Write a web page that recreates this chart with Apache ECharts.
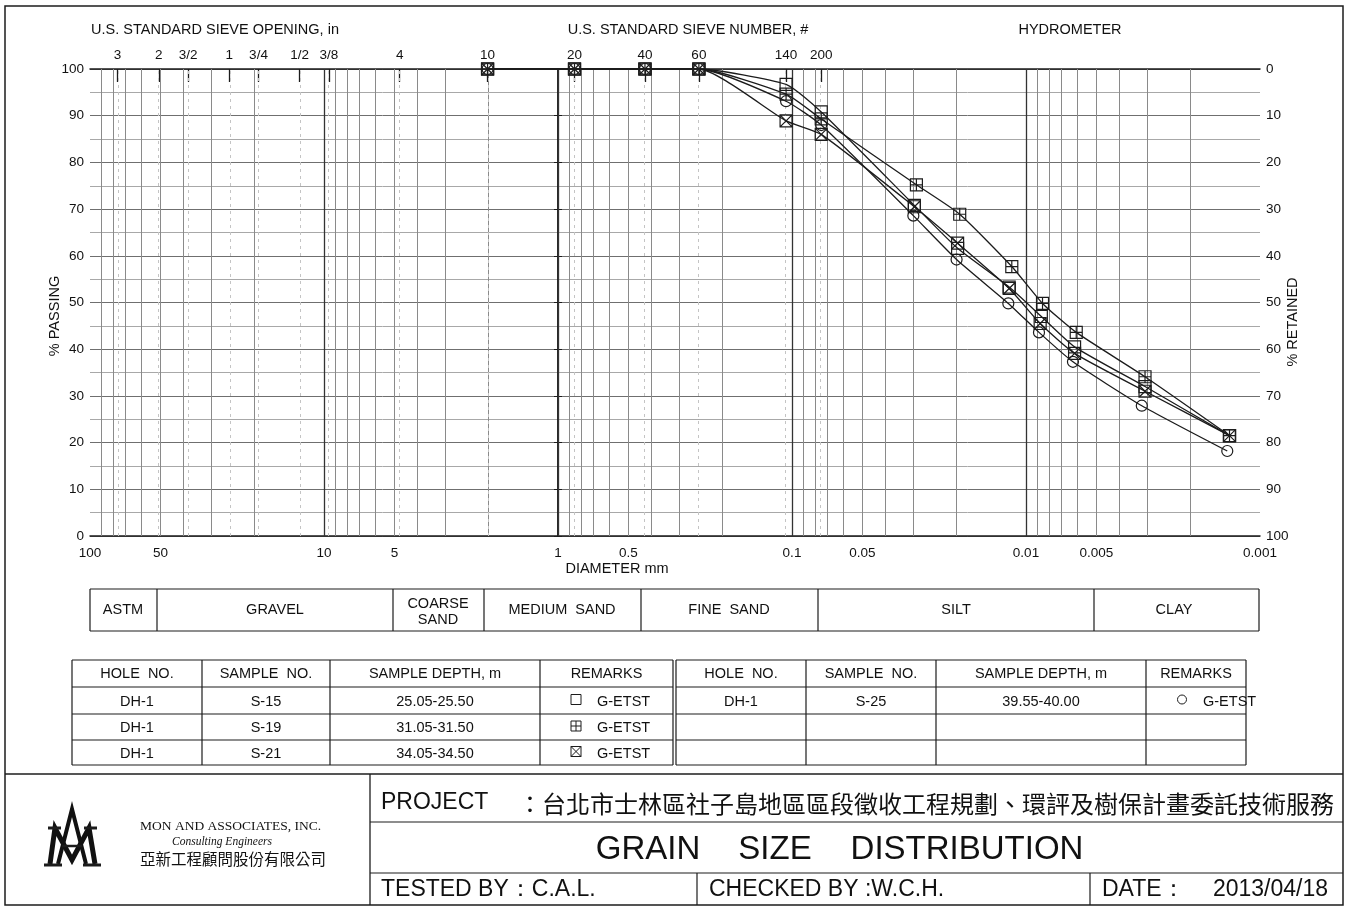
<!DOCTYPE html>
<html>
<head>
<meta charset="utf-8">
<script src="https://cdn.jsdelivr.net/npm/echarts@6/dist/echarts.min.js"></script>
<style>
html, body { margin: 0; padding: 0; background: #fff; }
#chart { width: 1345px; height: 906px; }
</style>
</head>
<body>
<div id="chart"></div>
<script>
// sieve sizes (mm): #10, #20, #40, #60, #140, #200
var sieveDiam = [2.0, 0.85, 0.425, 0.25, 0.106, 0.075];

// hydrometer diameters (mm) per sample
var hydroDiamS15 = [0.0300, 0.0196, 0.0118, 0.0086, 0.0062, 0.0031, 0.00135];
var hydroDiamS19 = [0.0294, 0.0192, 0.0115, 0.0085, 0.0061, 0.0031, 0.00135];
var hydroDiamS21 = [0.0300, 0.0196, 0.0118, 0.0087, 0.0062, 0.0031, 0.00135];
var hydroDiamS25 = [0.0303, 0.0198, 0.0119, 0.0088, 0.0063, 0.0032, 0.00138];

// % passing (sieves first, then hydrometer)
var passS15 = [100, 100, 100, 100, 96.7, 90.8, 70.8, 61.6, 53.3, 47.0, 40.5, 32.0, 21.5];
var passS19 = [100, 100, 100, 100, 94.6, 89.3, 75.2, 68.9, 57.7, 49.8, 43.6, 34.1, 21.5];
var passS21 = [100, 100, 100, 100, 88.9, 86.0, 70.5, 62.7, 53.0, 45.5, 39.1, 31.0, 21.5];
var passS25 = [100, 100, 100, 100, 93.1, 88.0, 68.6, 59.2, 49.8, 43.6, 37.3, 27.9, 18.2];

// axis labels
var diamLabels = ['100', '50', '10', '5', '1', '0.5', '0.1', '0.05', '0.01', '0.005', '0.001'];
var sieveLabels = ['3', '2', '3/2', '1', '3/4', '1/2', '3/8', '4', '10', '20', '40', '60', '140', '200'];
var sieveOpenMm = [76.2, 50.8, 38.1, 25.4, 19.05, 12.7, 9.525, 4.75, 2.0, 0.85, 0.425, 0.25, 0.106, 0.075];

var FONT = "'Liberation Sans', Arial, sans-serif";
var CJK = "'Noto Sans CJK TC', 'Noto Sans CJK SC', sans-serif";
var SERIF = "'Liberation Serif', 'DejaVu Serif', serif";
var INK = '#1c1c1c';
var TF = '14.5px ' + FONT;

var diamVals = diamLabels.map(function (s) { return Math.log10(parseFloat(s)); });
var sieveVals = sieveOpenMm.map(function (d) { return Math.log10(d); });

function lookup(vals, labels) {
  return function (v) {
    for (var i = 0; i < vals.length; i++) {
      if (Math.abs(vals[i] - v) < 1e-6) return labels[i];
    }
    return '';
  };
}

function curve(name, hydro, pass, symbol, size) {
  var diam = sieveDiam.concat(hydro);
  return {
    name: name,
    type: 'line',
    data: diam.map(function (d, i) { return [Math.log10(d), pass[i]]; }),
    smooth: 0.18,
    symbol: symbol,
    symbolSize: size,
    showAllSymbol: true,
    lineStyle: { color: INK, width: 1.3 },
    itemStyle: { color: 'rgba(255,255,255,0)', borderColor: INK, borderWidth: 1.2 },
    z: 5,
    animation: false
  };
}

// vertical log grid lines
var vgrid = [];
[-3, -2, -1, 0, 1].forEach(function (n) {
  for (var k = 1; k <= 9; k++) {
    var v = Math.log10(k) + n;
    if (v <= -3 || v >= 2) continue;
    vgrid.push({ xAxis: v, lineStyle: { color: k === 1 ? '#333' : '#8a8a8a', width: k === 1 ? 1.3 : 1, type: 'solid' } });
  }
});
sieveVals.forEach(function (v) {
  vgrid.push({ xAxis: v, lineStyle: { color: '#c4c4c4', width: 1, type: [3, 4] } });
});

// ---------- graphic helpers ----------
var G = [];
function ln(x1, y1, x2, y2, w) {
  G.push({ type: 'line', silent: true, shape: { x1: x1, y1: y1, x2: x2, y2: y2 },
    style: { stroke: INK, lineWidth: w || 1.2 } });
}
function tx(x, y, s, font, align, rot) {
  G.push({ type: 'text', silent: true, x: x, y: y, rotation: rot || 0,
    style: { text: s, font: font || TF, fill: '#111', textAlign: align || 'center', textVerticalAlign: 'middle' } });
}
function markSquare(cx, cy, kind) {
  G.push({ type: 'rect', silent: true, shape: { x: cx - 5, y: cy - 5, width: 10, height: 10 },
    style: { fill: 'none', stroke: INK, lineWidth: 1 } });
  if (kind === 'plus') { ln(cx, cy - 5, cx, cy + 5, 1); ln(cx - 5, cy, cx + 5, cy, 1); }
  if (kind === 'x') { ln(cx - 5, cy - 5, cx + 5, cy + 5, 1); ln(cx + 5, cy - 5, cx - 5, cy + 5, 1); }
}

// outer frame
G.push({ type: 'rect', silent: true, shape: { x: 5, y: 6, width: 1338, height: 899 },
  style: { fill: 'none', stroke: INK, lineWidth: 1.5 } });

// headings and axis titles
tx(215, 30, 'U.S. STANDARD SIEVE OPENING, in');
tx(688, 30, 'U.S. STANDARD SIEVE NUMBER, #');
tx(1070, 30, 'HYDROMETER');
tx(617, 569, 'DIAMETER mm');
tx(55, 316, '% PASSING', null, 'center', Math.PI / 2);
tx(1293, 322, '% RETAINED', null, 'center', Math.PI / 2);

// soil classification strip
var clsX = [90, 157, 393, 484, 641, 818, 1094, 1259];
ln(90, 589, 1259, 589); ln(90, 631, 1259, 631);
clsX.forEach(function (x) { ln(x, 589, x, 631); });
tx(123, 610, 'ASTM');
tx(275, 610, 'GRAVEL');
tx(438, 604, 'COARSE');
tx(438, 620, 'SAND');
tx(562, 610, 'MEDIUM  SAND');
tx(729, 610, 'FINE  SAND');
tx(956, 610, 'SILT');
tx(1174, 610, 'CLAY');

// sample tables
var rowY = [660, 687, 714, 740, 765];
function table(cols, rows) {
  rowY.forEach(function (y) { ln(cols[0], y, cols[cols.length - 1], y); });
  cols.forEach(function (x) { ln(x, rowY[0], x, rowY[4]); });
  var heads = ['HOLE  NO.', 'SAMPLE  NO.', 'SAMPLE DEPTH, m', 'REMARKS'];
  heads.forEach(function (h, i) { tx((cols[i] + cols[i + 1]) / 2, 673.5, h); });
  rows.forEach(function (r, j) {
    var cy = (rowY[j + 1] + rowY[j + 2]) / 2 + 1;
    for (var i = 0; i < 3; i++) tx((cols[i] + cols[i + 1]) / 2, cy, r[i]);
    var mx = cols[3] + 36;
    if (r[3] === 'circle') {
      G.push({ type: 'circle', silent: true, shape: { cx: mx, cy: cy - 2, r: 4.5 }, style: { fill: 'none', stroke: INK, lineWidth: 1 } });
    } else {
      markSquare(mx, cy - 2, r[3]);
    }
    tx(mx + 21, cy, 'G-ETST', null, 'left');
  });
}
table([72, 202, 330, 540, 673], [
  ['DH-1', 'S-15', '25.05-25.50', 'sq'],
  ['DH-1', 'S-19', '31.05-31.50', 'plus'],
  ['DH-1', 'S-21', '34.05-34.50', 'x']
]);
table([676, 806, 936, 1146, 1246], [
  ['DH-1', 'S-25', '39.55-40.00', 'circle']
]);

// title block
ln(5, 774, 1343, 774, 1.5);
ln(370, 774, 370, 905, 1.3);
ln(370, 822, 1343, 822);
ln(370, 873, 1343, 873);
ln(697, 873, 697, 905);
ln(1090, 873, 1090, 905);
tx(381, 803, 'PROJECT', '23px ' + FONT, 'left');
tx(518, 804, '：台北市士林區社子島地區區段徵收工程規劃、環評及樹保計畫委託技術服務', '24px ' + CJK, 'left');
tx(648, 850, 'GRAIN', '33px ' + FONT);
tx(775, 850, 'SIZE', '33px ' + FONT);
tx(967, 850, 'DISTRIBUTION', '33px ' + FONT);
tx(381, 890, 'TESTED BY：C.A.L.', '23px ' + FONT, 'left');
tx(709, 890, 'CHECKED BY :W.C.H.', '23px ' + FONT, 'left');
tx(1102, 890, 'DATE：', '23px ' + FONT, 'left');
tx(1328, 890, '2013/04/18', '23px ' + FONT, 'right');

// logo and company name
G.push({ type: 'polyline', silent: true, shape: { points: [[50, 864], [55, 828], [72, 860], [89, 828], [95, 864]] },
  style: { fill: 'none', stroke: '#111', lineWidth: 5 } });
G.push({ type: 'polyline', silent: true, shape: { points: [[58, 864], [72, 809], [86, 864]] },
  style: { fill: 'none', stroke: '#111', lineWidth: 4 } });
ln(62, 846, 82, 846, 2.5);
ln(44, 865, 62, 865, 3); ln(83, 865, 101, 865, 3);
ln(48, 828, 61, 828, 3); ln(84, 828, 97, 828, 3);
tx(140, 826, 'MON AND ASSOCIATES, INC.', '13.5px ' + SERIF, 'left');
tx(172, 842, 'Consulting Engineers', 'italic 11.5px ' + SERIF, 'left');
tx(140, 859, '亞新工程顧問股份有限公司', '15.5px ' + CJK, 'left');

var chart = echarts.init(document.getElementById('chart'));
chart.setOption({
  backgroundColor: '#fff',
  animation: false,
  grid: { left: 90, right: 85, top: 69, bottom: 370 },
  xAxis: [
    {
      type: 'value', min: -3, max: 2, inverse: true, position: 'bottom',
      axisLine: { show: true, lineStyle: { color: INK, width: 1.5 } },
      axisTick: { show: false },
      splitLine: { show: false },
      axisLabel: { customValues: diamVals, formatter: lookup(diamVals, diamLabels), margin: 10,
        color: '#111', fontFamily: FONT, fontSize: 13.5 }
    },
    {
      type: 'value', min: -3, max: 2, inverse: true, position: 'top',
      axisLine: { show: true, lineStyle: { color: INK, width: 1.5 } },
      axisTick: { show: true, inside: true, length: 13, customValues: sieveVals, lineStyle: { color: INK, width: 1.3 } },
      splitLine: { show: false },
      axisLabel: { customValues: sieveVals, formatter: lookup(sieveVals, sieveLabels), margin: 7,
        color: '#111', fontFamily: FONT, fontSize: 13.5 }
    }
  ],
  yAxis: [
    {
      type: 'value', min: 0, max: 100, interval: 10, position: 'left',
      axisLine: { show: true, lineStyle: { color: INK, width: 1.5 } },
      axisTick: { show: true, length: 4, lineStyle: { color: INK } },
      axisLabel: { color: '#111', fontFamily: FONT, fontSize: 13.5, margin: 6 },
      splitLine: { show: true, lineStyle: { color: '#6f6f6f', width: 1 } },
      minorTick: { show: false, splitNumber: 2 },
      minorSplitLine: { show: true, lineStyle: { color: '#a8a8a8', width: 1 } }
    },
    {
      type: 'value', min: 0, max: 100, interval: 10, position: 'right', inverse: true,
      axisLine: { show: true, lineStyle: { color: INK, width: 1.5 } },
      axisTick: { show: true, length: 4, lineStyle: { color: INK } },
      axisLabel: { color: '#111', fontFamily: FONT, fontSize: 13.5, margin: 6 },
      splitLine: { show: false }
    }
  ],
  graphic: { elements: G },
  series: [
    {
      name: 'grid', type: 'line', data: [], z: 1, silent: true, animation: false,
      markLine: { silent: true, symbol: ['none', 'none'], label: { show: false }, animation: false, data: vgrid }
    },
    curve('S-15', hydroDiamS15, passS15, 'rect', 12),
    curve('S-25', hydroDiamS25, passS25, 'circle', 11),
    curve('S-19', hydroDiamS19, passS19, 'path://M0,0L10,0L10,10L0,10Z M5,0L5,10 M0,5L10,5', 12),
    curve('S-21', hydroDiamS21, passS21, 'path://M0,0L10,0L10,10L0,10Z M0,0L10,10 M10,0L0,10', 12)
  ]
});
</script>
</body>
</html>
